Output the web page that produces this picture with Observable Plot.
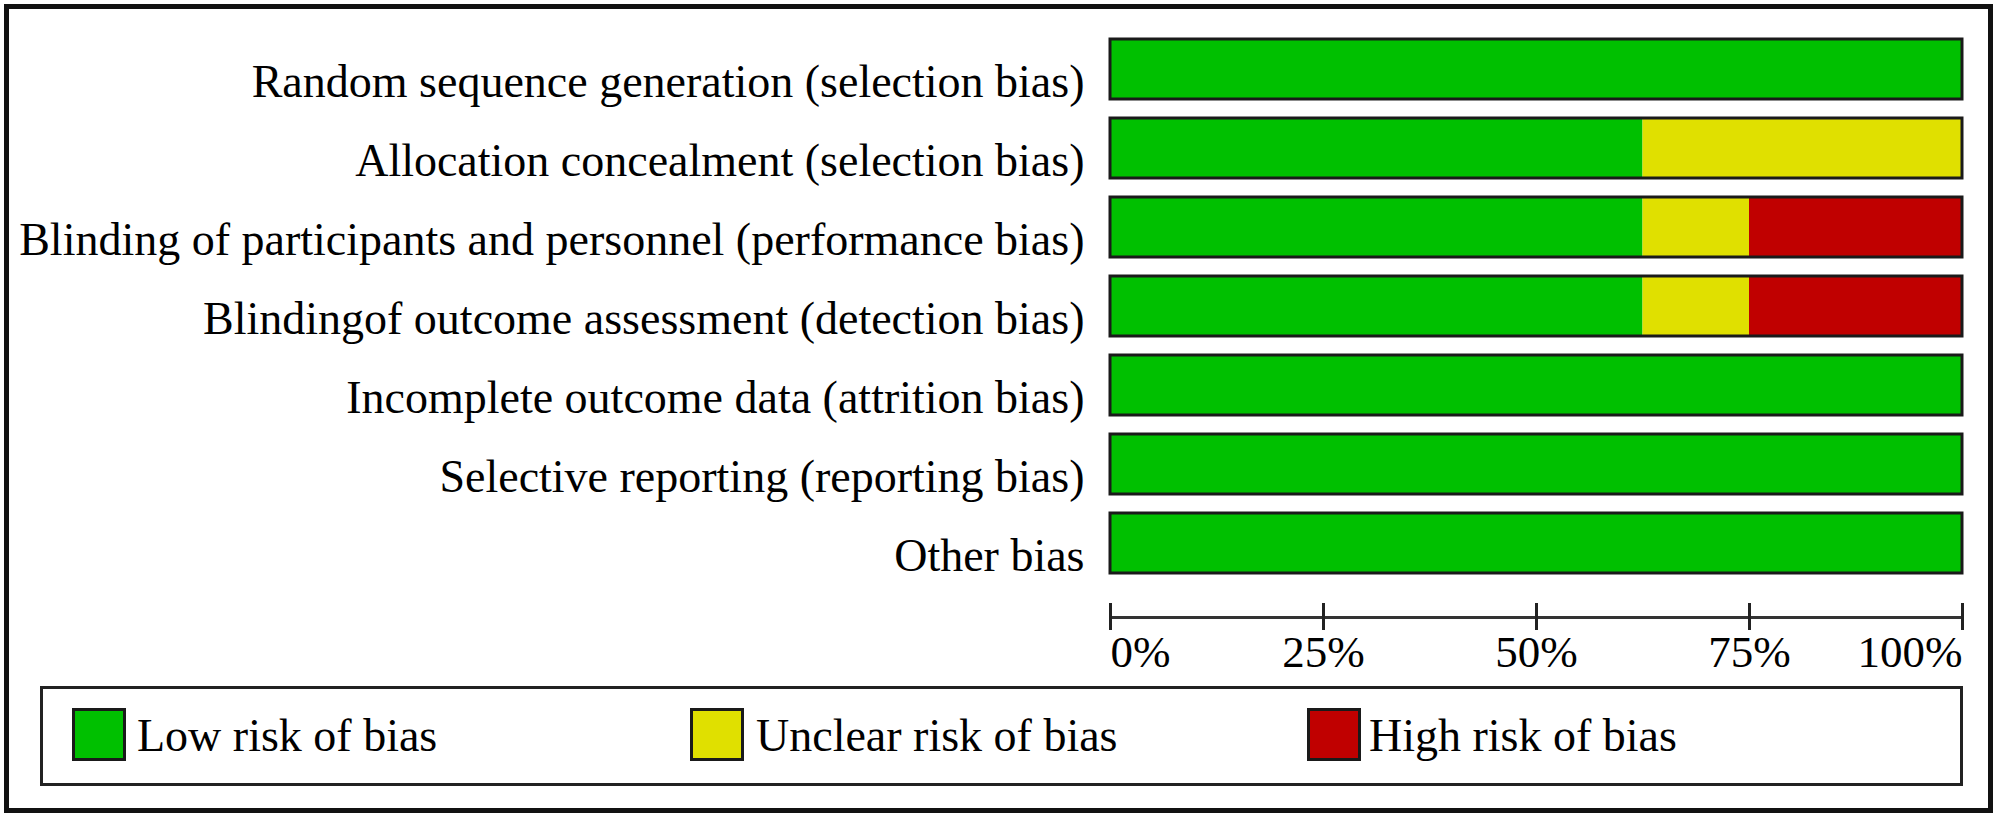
<!DOCTYPE html>
<html>
<head>
<meta charset="utf-8">
<script src="https://cdn.jsdelivr.net/npm/d3@7"></script>
<script src="https://cdn.jsdelivr.net/npm/@observablehq/plot@0.6"></script>
<style>
  html, body { margin: 0; padding: 0; background: #fff; }
  #wrap { position: relative; width: 2000px; height: 817px; overflow: hidden; font-family: "Liberation Serif", "Times New Roman", serif; }
  #outer { position: absolute; left: 4px; top: 4px; width: 1979px; height: 799px; border: 5px solid #111; }
  #chart { position: absolute; left: 0; top: 0; }
  #legend { position: absolute; left: 40px; top: 686px; width: 1917px; height: 94px; border: 3px solid #222; }
  .sw { position: absolute; width: 48px; height: 47px; border: 3px solid #1a1a1a; top: 708px; }
  .lt { position: absolute; top: 713px; font-size: 46px; line-height: 46px; color: #000; white-space: nowrap; }
</style>
</head>
<body>
<div id="wrap">
  <div id="outer"></div>
  <div id="chart"></div>
  <div id="legend"></div>
</div>
<script>
const domains = [
  "Random sequence generation (selection bias)",
  "Allocation concealment (selection bias)",
  "Blinding of participants and personnel (performance bias)",
  "Blindingof outcome assessment (detection bias)",
  "Incomplete outcome data (attrition bias)",
  "Selective reporting (reporting bias)",
  "Other bias"
];
const lowRisk     = [100, 62.5, 62.5, 62.5, 100, 100, 100];
const unclearRisk = [0, 37.5, 12.5, 12.5, 0, 0, 0];
const highRisk    = [0, 0, 25, 25, 0, 0, 0];
const riskLabels = ["Low risk of bias", "Unclear risk of bias", "High risk of bias"];
const riskColors = ["#00C000", "#E0E000", "#C00000"];
const xTicks = [0, 25, 50, 75, 100];
const xTickLabels = ["0%", "25%", "50%", "75%", "100%"];

const series = [lowRisk, unclearRisk, highRisk];
const table = [];
domains.forEach((d, i) => {
  series.forEach((s, k) => {
    table.push({domain: d, risk: riskLabels[k], value: s[i]});
  });
});
const ticks = xTicks.map((v, i) => ({v, label: xTickLabels[i]}));

const font = "'Liberation Serif', 'Times New Roman', serif";
const chart = Plot.plot({
  width: 2000,
  height: 680,
  marginLeft: 1110,
  marginRight: 38,
  marginTop: 29.5,
  marginBottom: 63,
  style: {fontFamily: font, fontSize: "46px", color: "#000", background: "transparent"},
  x: {domain: [0, 100], axis: null},
  y: {domain: domains, range: [29.5, 582.5], paddingInner: 0.24, paddingOuter: 0.12, axis: null},
  color: {domain: riskLabels, range: riskColors},
  marks: [
    Plot.barX(table, {x: "value", y: "domain", fill: "risk", order: riskLabels}),
    Plot.barX(domains, {x1: () => 0, x2: () => 100, y: d => d, fill: "none", stroke: "#1a1a1a", strokeWidth: 3}),
    Plot.axisY({tickSize: 0, tickPadding: 26, dy: 13, fontSize: 46, fill: "#000", label: null}),
    Plot.frame({anchor: "bottom", stroke: "#333", strokeWidth: 3}),
    Plot.ruleX(ticks, {x: "v", insetTop: 573.5, insetBottom: -13, stroke: "#222", strokeWidth: 3}),
    Plot.text(ticks.filter(t => t.v === 0), {x: "v", text: "label", frameAnchor: "bottom", lineAnchor: "top", dy: 18, textAnchor: "start", fontSize: 45, fill: "#000"}),
    Plot.text(ticks.filter(t => t.v > 0 && t.v < 100), {x: "v", text: "label", frameAnchor: "bottom", lineAnchor: "top", dy: 18, textAnchor: "middle", fontSize: 45, fill: "#000"}),
    Plot.text(ticks.filter(t => t.v === 100), {x: "v", text: "label", frameAnchor: "bottom", lineAnchor: "top", dy: 18, textAnchor: "end", fontSize: 45, fill: "#000"})
  ]
});
document.getElementById("chart").appendChild(chart);

// legend
const wrap = document.getElementById("wrap");
const swX = [72, 690, 1307];
const txX = [137, 756, 1369];
riskLabels.forEach((lab, k) => {
  const sw = document.createElement("div");
  sw.className = "sw";
  sw.style.left = swX[k] + "px";
  sw.style.background = riskColors[k];
  wrap.appendChild(sw);
  const t = document.createElement("div");
  t.className = "lt";
  t.style.left = txX[k] + "px";
  t.textContent = lab;
  wrap.appendChild(t);
});
</script>
</body>
</html>
